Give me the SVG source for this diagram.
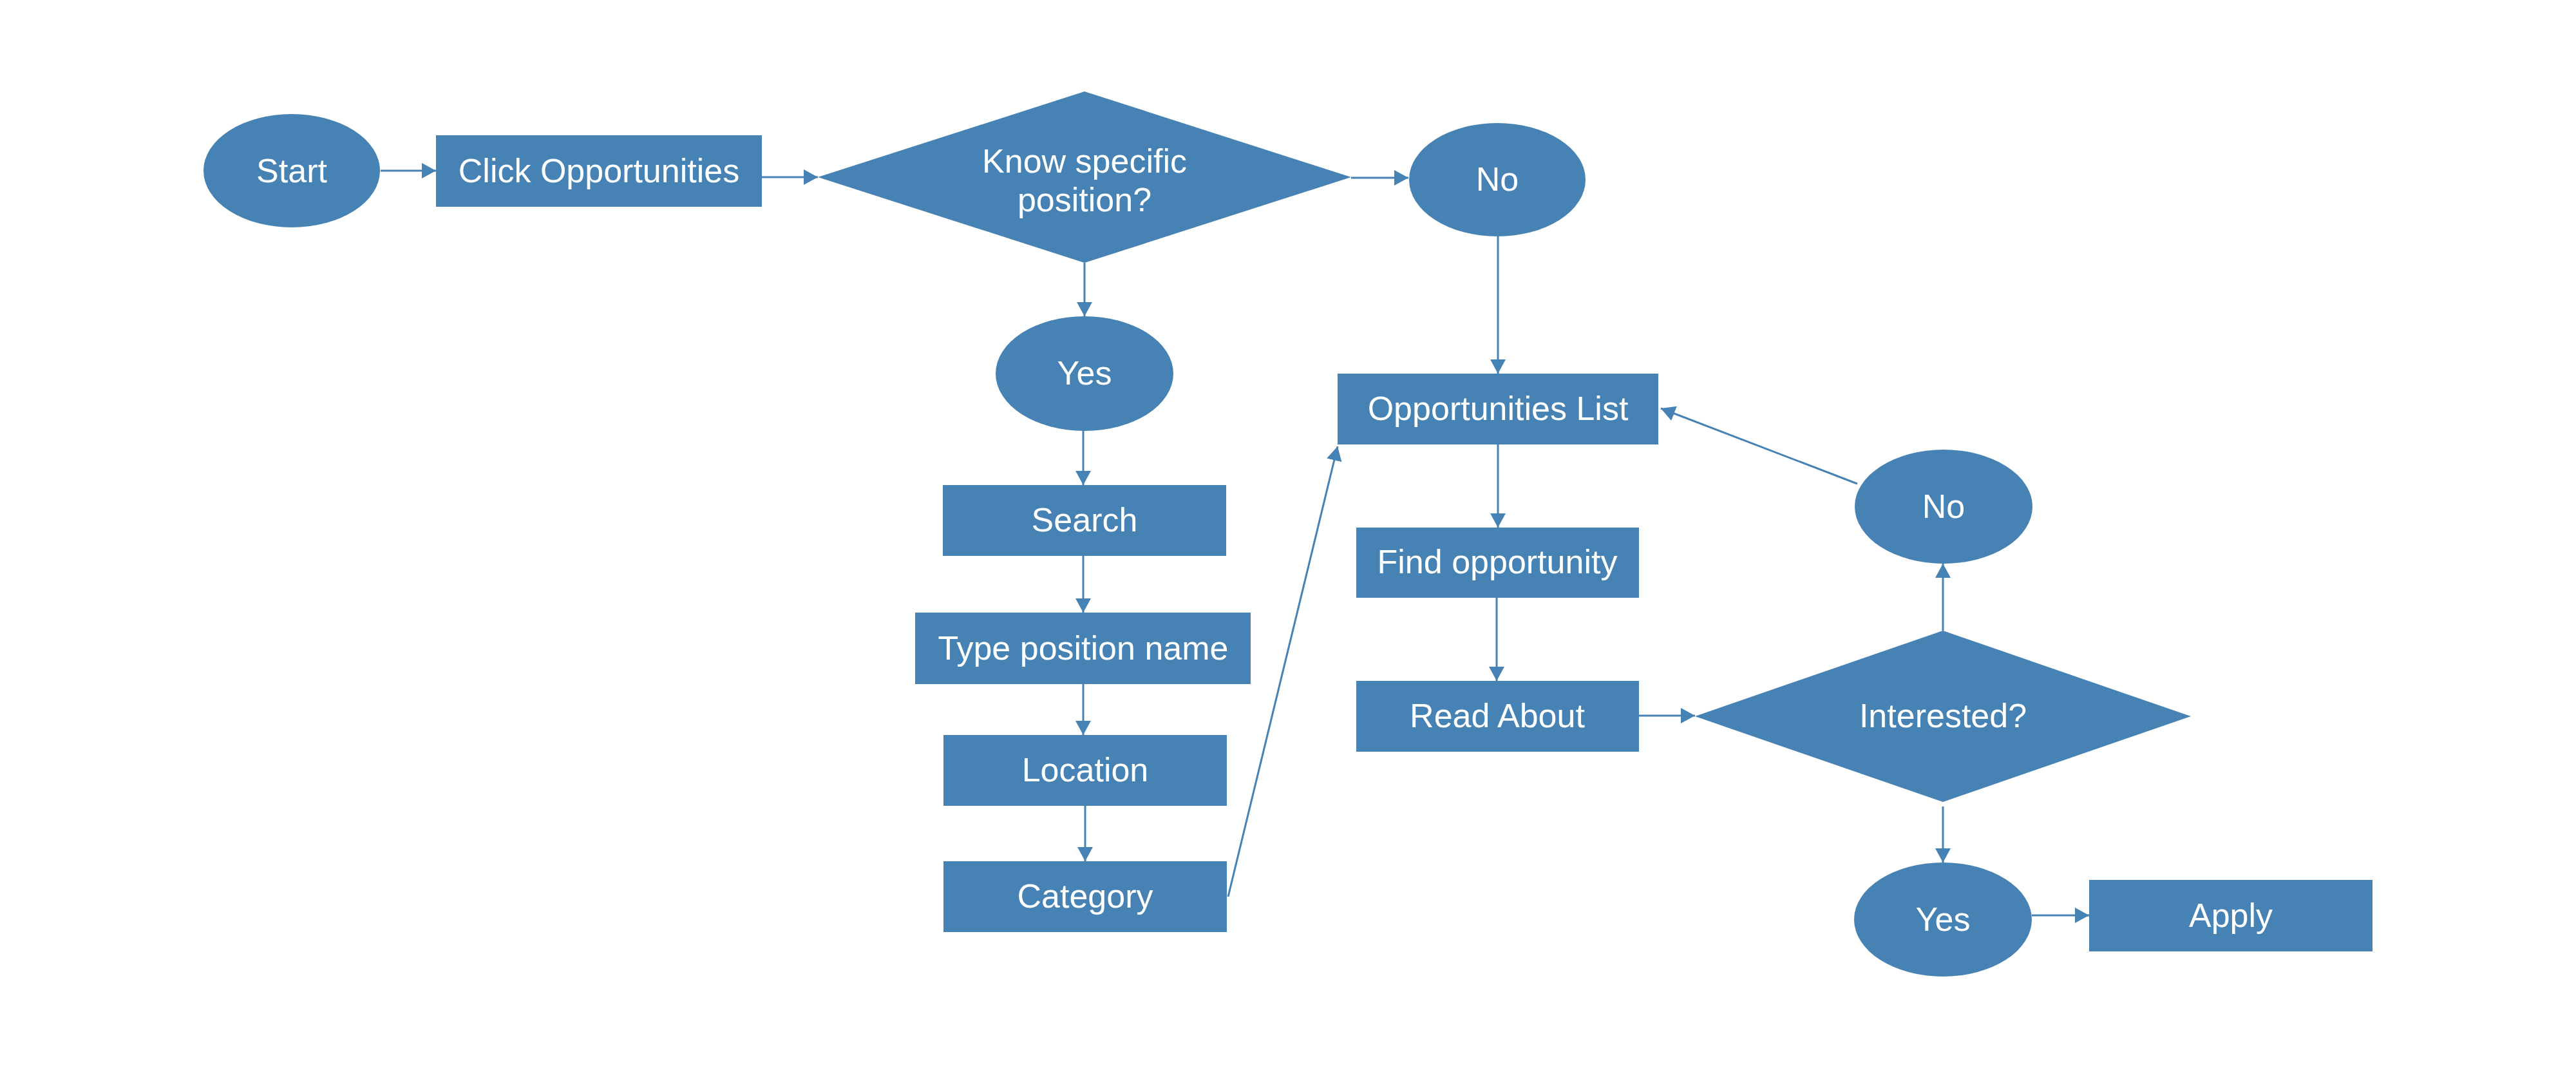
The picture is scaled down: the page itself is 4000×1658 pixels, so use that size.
<svg xmlns="http://www.w3.org/2000/svg" width="4000" height="1658" viewBox="0 0 4000 1658">
<style>
.n{fill:#4682b4;}
.t{fill:#ffffff;font-family:"Liberation Sans",Arial,sans-serif;font-size:52px;text-anchor:middle;}
.c{stroke:#4682b4;stroke-width:3;fill:none;marker-end:url(#ah);}
</style>
<defs>
<marker id="ah" markerUnits="userSpaceOnUse" viewBox="0 0 22 24" refX="22" refY="12" markerWidth="22" markerHeight="24" orient="auto">
<path d="M0,0 L22,12 L0,24 z" fill="#4682b4"/>
</marker>
</defs>
<rect width="4000" height="1658" fill="#ffffff"/>
<g id="connectors">
<line class="c" x1="591" y1="265" x2="677" y2="265"/>
<line class="c" x1="1183" y1="275" x2="1270" y2="275"/>
<line class="c" x1="2098" y1="276" x2="2187" y2="276"/>
<line class="c" x1="1684" y1="408" x2="1684" y2="491"/>
<line class="c" x1="2326" y1="367" x2="2326" y2="580"/>
<line class="c" x1="1682" y1="669" x2="1682" y2="753"/>
<line class="c" x1="1682" y1="863" x2="1682" y2="951"/>
<line class="c" x1="1682" y1="1062" x2="1682" y2="1141"/>
<line class="c" x1="1685" y1="1251" x2="1685" y2="1337"/>
<line class="c" x1="1907" y1="1392" x2="2077" y2="693"/>
<line class="c" x1="2326" y1="690" x2="2326" y2="819"/>
<line class="c" x1="2324" y1="928" x2="2324" y2="1057"/>
<line class="c" x1="2545" y1="1111" x2="2632" y2="1111"/>
<line class="c" x1="3017" y1="979" x2="3017" y2="875"/>
<line class="c" x1="2884" y1="751" x2="2579" y2="634"/>
<line class="c" x1="3017" y1="1252" x2="3017" y2="1339"/>
<line class="c" x1="3155" y1="1421" x2="3244" y2="1421"/>
</g>
<g id="start"><ellipse class="n" cx="453" cy="265" rx="137" ry="88"/><text class="t" x="453" y="283">Start</text></g>
<g id="click-opportunities"><rect class="n" x="677" y="210" width="506" height="111"/><text class="t" x="930" y="283">Click Opportunities</text></g>
<g id="know-specific"><polygon class="n" points="1684,142 2098,275 1684,408 1270,275"/><text class="t" x="1684" y="268">Know specific</text><text class="t" x="1684" y="328">position?</text></g>
<g id="no-1"><ellipse class="n" cx="2325" cy="279" rx="137" ry="88"/><text class="t" x="2325" y="296">No</text></g>
<g id="yes-1"><ellipse class="n" cx="1684" cy="580" rx="138" ry="89"/><text class="t" x="1684" y="597">Yes</text></g>
<g id="search"><rect class="n" x="1464" y="753" width="440" height="110"/><text class="t" x="1684" y="825">Search</text></g>
<g id="type-position-name"><rect class="n" x="1421" y="951" width="521" height="111"/><text class="t" x="1682" y="1024">Type position name</text></g>
<g id="location"><rect class="n" x="1465" y="1141" width="440" height="110"/><text class="t" x="1685" y="1213">Location</text></g>
<g id="category"><rect class="n" x="1465" y="1337" width="440" height="110"/><text class="t" x="1685" y="1409">Category</text></g>
<g id="opportunities-list"><rect class="n" x="2077" y="580" width="498" height="110"/><text class="t" x="2326" y="652">Opportunities List</text></g>
<g id="find-opportunity"><rect class="n" x="2106" y="819" width="439" height="109"/><text class="t" x="2325" y="890">Find opportunity</text></g>
<g id="read-about"><rect class="n" x="2106" y="1057" width="439" height="110"/><text class="t" x="2325" y="1129">Read About</text></g>
<g id="interested"><polygon class="n" points="3017,979 3402,1112 3017,1245 2632,1112"/><text class="t" x="3017" y="1129">Interested?</text></g>
<g id="no-2"><ellipse class="n" cx="3018" cy="786.5" rx="138" ry="88.5"/><text class="t" x="3018" y="804">No</text></g>
<g id="yes-2"><ellipse class="n" cx="3017" cy="1427.5" rx="138" ry="88.5"/><text class="t" x="3017" y="1445">Yes</text></g>
<g id="apply"><rect class="n" x="3244" y="1366" width="440" height="111"/><text class="t" x="3464" y="1439">Apply</text></g>
</svg>
